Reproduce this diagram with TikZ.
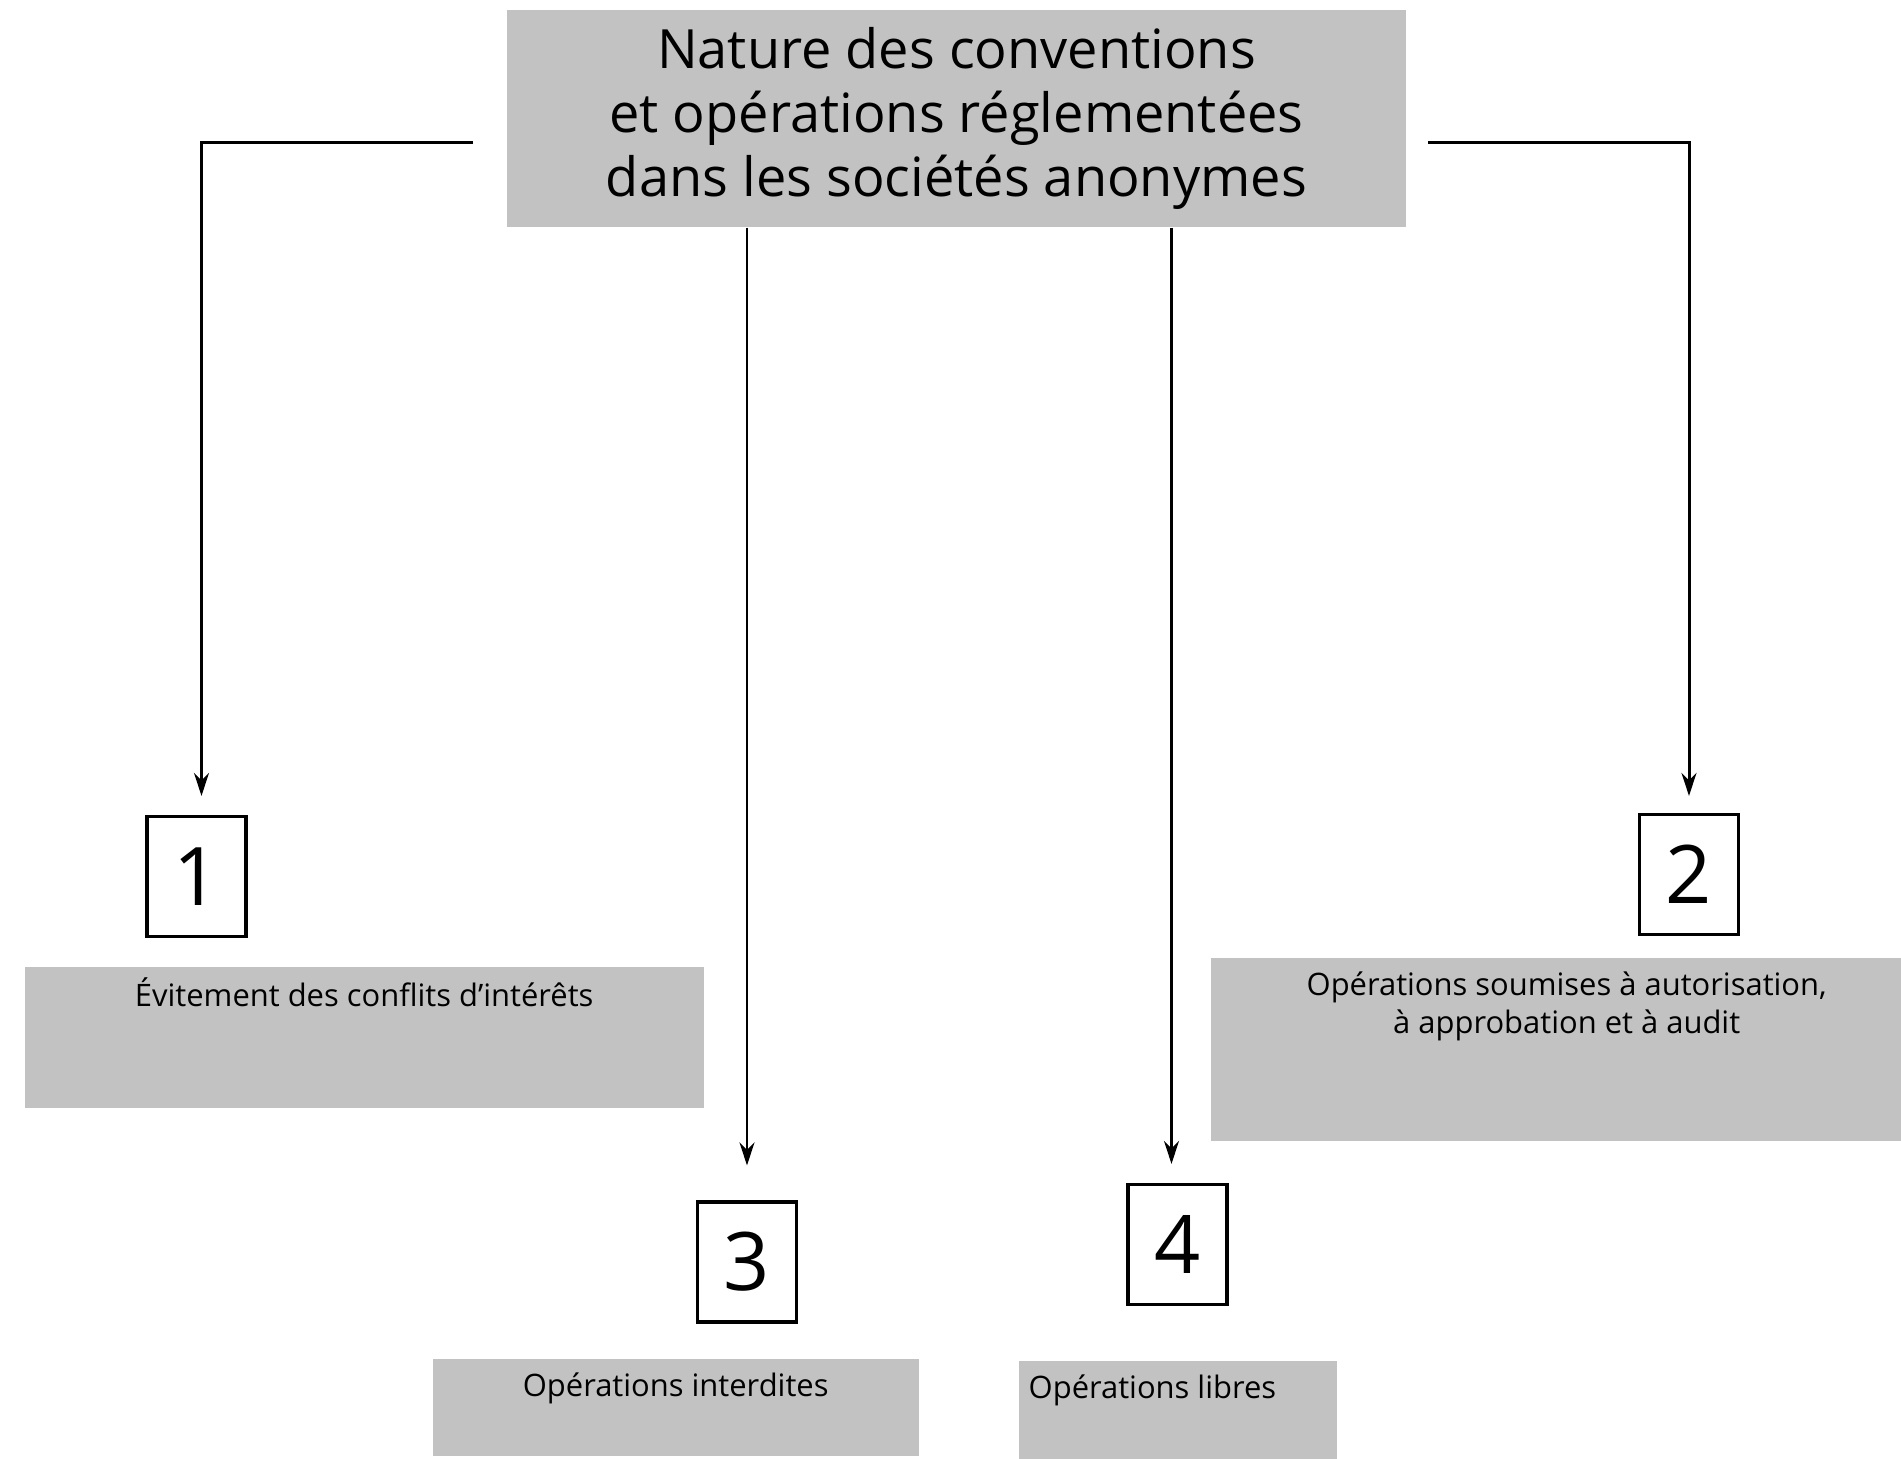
\documentclass[tikz,border=0pt]{standalone}
\usepackage{fontspec}
\setmainfont{Open Sans}
\usetikzlibrary{arrows.meta}
\definecolor{boxgrey}{RGB}{194,194,194}
\tikzset{
  titlebox/.style={fill=boxgrey, minimum width=8.99cm, minimum height=2.17cm, align=center,
    font=\fontsize{15.4}{18.2}\selectfont},
  numbox/.style={draw, line width=0.9pt, minimum width=0.99cm, minimum height=1.2cm, inner sep=0pt,
    font=\fontsize{23}{28}\selectfont},
  greybox/.style={fill=boxgrey, inner sep=0pt, anchor=north west, font=\fontsize{8.8}{10.8}\selectfont},
  link/.style={line width=0.85pt, >={Stealth[length=2.3mm,width=1.5mm]}, ->},
}
\newcommand{\boxtext}[3]{\parbox[t][#2][t]{#1}{\vspace*{1.1mm}#3}}
\begin{document}
\begin{tikzpicture}
        \useasboundingbox (0,0) rectangle (19.01,-14.59);
        % heading
        \node[titlebox] (title) at (9.565,-1.185) {Nature des conventions\\et opérations réglementées\\dans les sociétés anonymes};
        \coordinate (t1) at (4.73,-1.43);
        \coordinate (t2) at (14.28,-1.43);
        % numbered boxes
        \node[numbox] (n1) at (1.965,-8.765) {1};
        \node[numbox] (n2) at (16.89,-8.745) {2};
        \node[numbox] (n3) at (7.47,-12.62) {3};
        \node[numbox] (n4) at (11.775,-12.445) {4};
        % grey boxes below the numbers
        \node[greybox] (e1) at (0.24,-9.66) {\boxtext{6.79cm}{1.41cm}{\centering\strut Évitement des conflits d’intérêts}};
        \node[greybox] (e2) at (12.10,-9.57) {\boxtext{7.12cm}{1.83cm}{\centering\strut Opérations soumises à autorisation,\\ à approbation et à audit}};
        \node[greybox] (e3) at (4.32,-13.58) {\boxtext{4.86cm}{0.97cm}{\centering\strut Opérations interdites}};
        \node[greybox] (e4) at (10.18,-13.60) {\boxtext{3.18cm}{0.99cm}{\hspace*{1mm}\strut Opérations libres}};
        % arrows
        \draw[link, shorten >=0.19cm] (t1) -| ([xshift=0.5mm]n1.north);
        \draw[link, shorten >=0.17cm] (t2) -| (n2.north);
        \draw[link, shorten >=0.35cm] (title.south -| n3.north) -- (n3.north);
        \draw[link, shorten >=0.19cm] ([xshift=-0.6mm]title.south -| n4.north) -- ([xshift=-0.6mm]n4.north);
\end{tikzpicture}
\end{document}
